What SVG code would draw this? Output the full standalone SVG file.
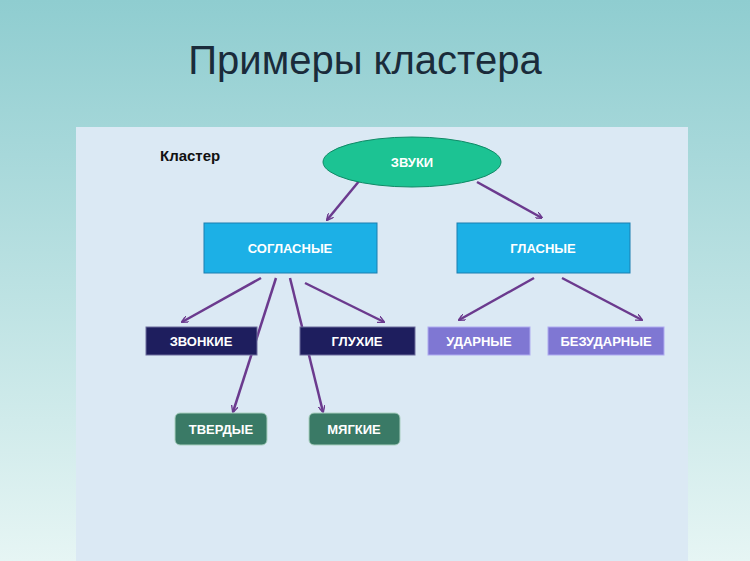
<svg xmlns="http://www.w3.org/2000/svg" width="750" height="561" viewBox="0 0 750 561">
<defs>
<linearGradient id="bg" x1="0" y1="0" x2="0" y2="1"><stop offset="0" stop-color="#8fcdd0"/><stop offset="1" stop-color="#e6f5f4"/></linearGradient>
<marker id="ah" viewBox="0 0 10 10" refX="9" refY="5" markerWidth="7" markerHeight="7" orient="auto" markerUnits="userSpaceOnUse"><path d="M0,0 L10,5 L0,10" fill="none" stroke="#6b3a8e" stroke-width="2"/></marker>
<style>
.c{stroke:#6b3a8e;stroke-width:2.5;fill:none;marker-end:url(#ah)}
.t{font-family:"Liberation Sans",Arial,sans-serif;font-weight:bold;font-size:13px;fill:#fff;text-anchor:middle;dominant-baseline:central}
.b{fill:#1cb0e6;stroke:#1a7fb0;stroke-width:1}
.d{fill:#1e1e5e;stroke:#6c6c9c;stroke-width:1}
.v{fill:#7f77d3;stroke:#b0acf0;stroke-width:1}
.g{fill:#3a7a66;stroke:#aad0c0;stroke-width:1}
</style>
</defs>
<rect width="750" height="561" fill="url(#bg)"/>
<rect x="76" y="127" width="612" height="434" fill="#dbe9f4"/>
<text x="365" y="74" font-family="Liberation Sans,Arial,sans-serif" font-size="40" fill="#1a2b3a" text-anchor="middle">Примеры кластера</text>
<text x="160" y="161" font-family="Liberation Sans,Arial,sans-serif" font-size="15" font-weight="bold" fill="#111">Кластер</text>
<g id="connectors">
<line class="c" x1="360" y1="180" x2="327" y2="220"/>
<line class="c" x1="477" y1="182" x2="542" y2="218"/>
<line class="c" x1="261" y1="278" x2="182" y2="322"/>
<line class="c" x1="276" y1="278" x2="233" y2="412"/>
<line class="c" x1="290" y1="278" x2="323" y2="412"/>
<line class="c" x1="305" y1="283" x2="384" y2="322"/>
<line class="c" x1="534" y1="278" x2="459" y2="320"/>
<line class="c" x1="562" y1="278" x2="642" y2="320"/>
</g>
<g id="zvuki"><ellipse cx="412" cy="162" rx="89" ry="25" fill="#1cc393" stroke="#0f8a66"/><text class="t" x="412" y="162">ЗВУКИ</text></g>
<g id="soglasnye"><rect class="b" x="204" y="223" width="173" height="50"/><text class="t" x="290" y="248">СОГЛАСНЫЕ</text></g>
<g id="glasnye"><rect class="b" x="457" y="223" width="173" height="50"/><text class="t" x="543" y="248">ГЛАСНЫЕ</text></g>
<g id="zvonkie"><rect class="d" x="146" y="327" width="111" height="28"/><text class="t" x="201" y="341">ЗВОНКИЕ</text></g>
<g id="gluhie"><rect class="d" x="300" y="327" width="115" height="28"/><text class="t" x="357" y="341">ГЛУХИЕ</text></g>
<g id="udarnye"><rect class="v" x="428" y="327" width="102" height="28"/><text class="t" x="479" y="341">УДАРНЫЕ</text></g>
<g id="bezudarnye"><rect class="v" x="548" y="327" width="116" height="28"/><text class="t" x="606" y="341">БЕЗУДАРНЫЕ</text></g>
<g id="tverdye"><rect class="g" x="175" y="413" width="92" height="32" rx="5"/><text class="t" x="221" y="429">ТВЕРДЫЕ</text></g>
<g id="myagkie"><rect class="g" x="309" y="413" width="91" height="32" rx="5"/><text class="t" x="354" y="429">МЯГКИЕ</text></g>
</svg>
